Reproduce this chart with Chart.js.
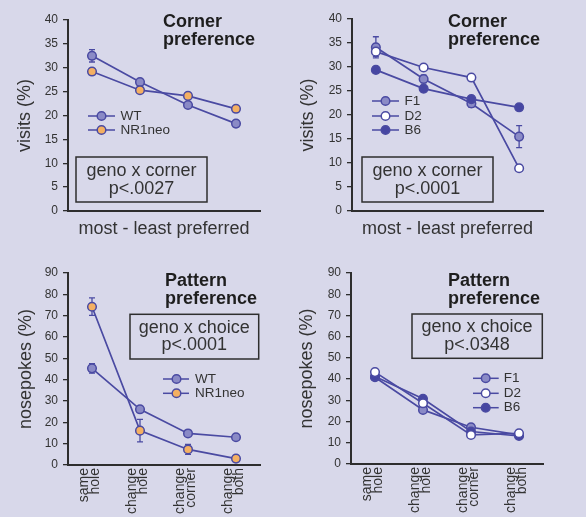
<!DOCTYPE html>
<html>
<head>
<meta charset="utf-8">
<script src="https://cdn.jsdelivr.net/npm/chart.js@4.4.0/dist/chart.umd.min.js"></script>
<style>
  body { margin: 0; background: #d8d8ea; }
  #wrap { position: relative; width: 586px; height: 517px; background: #d8d8ea; overflow: hidden; }
  canvas { position: absolute; }
</style>
</head>
<body>
<div id="wrap">
  <canvas id="c1" width="293" height="260" style="left:0;top:0"></canvas>
  <canvas id="c2" width="293" height="260" style="left:293px;top:0"></canvas>
  <canvas id="c3" width="293" height="257" style="left:0;top:260px"></canvas>
  <canvas id="c4" width="293" height="257" style="left:293px;top:260px"></canvas>
</div>
<script>
// ---- data ----
const cornerCats = ['most', '2nd', '3rd', 'least'];
const patternCats = [['same', 'hole'], ['change', 'hole'], ['change', 'corner'], ['change', 'both']];

const cornerWT = [32.5, 27.0, 22.2, 18.3];
const cornerWTErr = [1.3, 0.6, 0.6, 0.6];
const cornerNR1 = [29.2, 25.3, 24.1, 21.4];
const cornerNR1Err = [0.6, 0.6, 0.6, 0.6];

const cornerF1 = [34.1, 27.5, 22.4, 15.5];
const cornerF1Err = [2.2, 0.8, 0.8, 2.3];
const cornerD2 = [33.2, 29.9, 27.8, 8.9];
const cornerD2Err = [1.0, 0.6, 0.6, 0.6];
const cornerB6 = [29.4, 25.5, 23.3, 21.6];
const cornerB6Err = [0.6, 0.6, 0.6, 0.6];

const patternWT = [45.3, 26.1, 14.8, 13.0];
const patternWTErr = [2.2, 1.0, 1.0, 1.0];
const patternNR1 = [74.2, 16.1, 7.3, 3.0];
const patternNR1Err = [4.1, 5.3, 2.3, 1.0];

const patternF1 = [40.9, 25.5, 17.3, 13.7];
const patternD2 = [43.3, 28.6, 13.7, 14.5];
const patternB6 = [41.2, 30.7, 15.3, 13.2];
const patternSmallErr = [1.0, 1.0, 1.0, 1.0];

const lineColor = '#4a4aa2';
const axisColor = '#2e2e2e';
const textColor = '#333333';
const fontFamily = '"Liberation Sans", Arial, Helvetica, sans-serif';

const fills = { WT: '#8a8ac6', NR1neo: '#f4b062', F1: '#8a8ac6', D2: '#ffffff', B6: '#4646a2' };

function series(label, data, errors, order) {
  return {
    label, data, errors, order,
    borderColor: lineColor,
    borderWidth: 1.7,
    tension: 0,
    pointRadius: 4.3,
    pointBorderWidth: 1.5,
    pointBorderColor: lineColor,
    pointBackgroundColor: fills[label],
    fill: false
  };
}

// error bars under the markers
const errorBars = {
  id: 'errorBars',
  beforeDatasetsDraw(chart) {
    const ctx = chart.ctx;
    const y = chart.scales.y;
    ctx.save();
    ctx.strokeStyle = lineColor;
    ctx.lineWidth = 1.3;
    chart.data.datasets.forEach((ds, i) => {
      const meta = chart.getDatasetMeta(i);
      meta.data.forEach((pt, j) => {
        const e = ds.errors[j];
        const top = y.getPixelForValue(ds.data[j] + e);
        const bot = y.getPixelForValue(ds.data[j] - e);
        ctx.beginPath();
        ctx.moveTo(pt.x, top); ctx.lineTo(pt.x, bot);
        ctx.moveTo(pt.x - 3, top); ctx.lineTo(pt.x + 3, top);
        ctx.moveTo(pt.x - 3, bot); ctx.lineTo(pt.x + 3, bot);
        ctx.stroke();
      });
    });
    ctx.restore();
  }
};

// panel title, stats box and small legend
function panelText(p) {
  return {
    id: 'panelText',
    afterDraw(chart) {
      const ctx = chart.ctx;
      ctx.save();
      ctx.fillStyle = '#1e1e1e';
      ctx.font = 'bold 18px ' + fontFamily;
      ctx.textAlign = 'left';
      ctx.textBaseline = 'alphabetic';
      p.title.forEach((t, i) => ctx.fillText(t, p.titleX, p.titleY[i]));

      ctx.strokeStyle = axisColor;
      ctx.lineWidth = 1.5;
      ctx.strokeRect(p.box[0], p.box[1], p.box[2] - p.box[0], p.box[3] - p.box[1]);
      ctx.fillStyle = textColor;
      ctx.font = '18px ' + fontFamily;
      ctx.textAlign = 'center';
      p.boxText.forEach((t, i) => ctx.fillText(t, p.boxCx, p.boxY[i]));

      ctx.font = '13.5px ' + fontFamily;
      ctx.textAlign = 'left';
      ctx.textBaseline = 'middle';
      p.legend.forEach((lab, i) => {
        const ds = chart.data.datasets.find(d => d.label === lab);
        const yy = p.legY[i];
        ctx.strokeStyle = lineColor;
        ctx.lineWidth = 1.5;
        ctx.beginPath();
        ctx.moveTo(p.legX[0], yy); ctx.lineTo(p.legX[1], yy);
        ctx.stroke();
        ctx.beginPath();
        ctx.arc(p.legX[2], yy, 4.3, 0, Math.PI * 2);
        ctx.fillStyle = ds.pointBackgroundColor;
        ctx.fill();
        ctx.stroke();
        ctx.fillStyle = textColor;
        ctx.fillText(lab, p.legX[3], yy);
      });
      ctx.restore();
    }
  };
}

function makePanel(id, p) {
  const xTicks = p.pattern
    ? { display: true, autoSkip: false, minRotation: 90, maxRotation: 90, padding: 3, labelOffset: -8,
        color: textColor, font: { family: fontFamily, size: 14, lineHeight: 0.8 } }
    : { display: false };
  new Chart(document.getElementById(id), {
    type: 'line',
    data: { labels: p.labels, datasets: p.datasets },
    options: {
      responsive: false,
      animation: false,
      devicePixelRatio: 1,
      layout: { padding: { top: p.pad[0], right: p.pad[1], bottom: 0, left: 0 } },
      plugins: { legend: { display: false }, tooltip: { enabled: false } },
      scales: {
        x: {
          offset: true,
          grid: { drawOnChartArea: false, drawTicks: false },
          border: { display: true, color: axisColor, width: 2 },
          ticks: xTicks,
          title: p.xTitle
            ? { display: true, text: p.xTitle, color: textColor, font: { family: fontFamily, size: 18 },
                padding: { top: 0, bottom: 20 } }
            : { display: false },
          afterFit: s => { s.height = p.xh; }
        },
        y: {
          min: 0, max: p.ymax,
          ticks: { stepSize: p.step, padding: 5, color: textColor, font: { family: fontFamily, size: 12 } },
          grid: { drawOnChartArea: false, drawTicks: true, tickLength: 5, color: axisColor, lineWidth: 1.3 },
          border: { display: true, color: axisColor, width: 2 },
          title: { display: true, text: p.yTitle, color: textColor, font: { family: fontFamily, size: 18 },
                   padding: { top: p.ytp, bottom: 0 } },
          afterFit: s => { s.width = p.yw; }
        }
      }
    },
    plugins: [errorBars, panelText(p)]
  });
}

makePanel('c1', {
  labels: cornerCats,
  datasets: [series('WT', cornerWT, cornerWTErr, 2), series('NR1neo', cornerNR1, cornerNR1Err, 1)],
  pad: [20, 33], yw: 68, xh: 49, ymax: 40, step: 5, ytp: 14.5,
  yTitle: 'visits (%)', xTitle: 'most - least preferred',
  title: ['Corner', 'preference'], titleX: 163, titleY: [27.3, 45],
  box: [76, 157, 207, 202], boxText: ['geno x corner', 'p<.0027'], boxCx: 141.5, boxY: [176, 194.3],
  legend: ['WT', 'NR1neo'], legX: [88, 115, 101.5, 120.5], legY: [116, 130]
});

makePanel('c2', {
  labels: cornerCats,
  datasets: [series('F1', cornerF1, cornerF1Err, 3), series('D2', cornerD2, cornerD2Err, 1), series('B6', cornerB6, cornerB6Err, 2)],
  pad: [19, 43], yw: 59, xh: 49, ymax: 40, step: 5, ytp: 4,
  yTitle: 'visits (%)', xTitle: 'most - least preferred',
  title: ['Corner', 'preference'], titleX: 155, titleY: [27.3, 45],
  box: [69, 157, 200, 202], boxText: ['geno x corner', 'p<.0001'], boxCx: 134.5, boxY: [176, 194.3],
  legend: ['F1', 'D2', 'B6'], legX: [79, 106, 92.5, 111.5], legY: [101, 116, 130]
});

makePanel('c3', {
  pattern: true,
  labels: patternCats,
  datasets: [series('WT', patternWT, patternWTErr, 2), series('NR1neo', patternNR1, patternNR1Err, 1)],
  pad: [13, 33], yw: 68, xh: 52, ymax: 90, step: 10, ytp: 15,
  yTitle: 'nosepokes (%)',
  title: ['Pattern', 'preference'], titleX: 165, titleY: [26, 44],
  box: [130, 54.3, 258.7, 99], boxText: ['geno x choice', 'p<.0001'], boxCx: 194.3, boxY: [72.7, 90],
  legend: ['WT', 'NR1neo'], legX: [163, 189, 176.5, 195], legY: [119, 133.3]
});

makePanel('c4', {
  pattern: true,
  labels: patternCats,
  datasets: [series('F1', patternF1, patternSmallErr, 3), series('D2', patternD2, patternSmallErr, 1), series('B6', patternB6, patternSmallErr, 2)],
  pad: [13, 43], yw: 58, xh: 53, ymax: 90, step: 10, ytp: 3,
  yTitle: 'nosepokes (%)',
  title: ['Pattern', 'preference'], titleX: 155, titleY: [26, 44],
  box: [119, 54, 249.3, 98.3], boxText: ['geno x choice', 'p<.0348'], boxCx: 184, boxY: [71.7, 90],
  legend: ['F1', 'D2', 'B6'], legX: [180, 205.7, 192.7, 210.7], legY: [118.3, 133.3, 147.7]
});
</script>
</body>
</html>
